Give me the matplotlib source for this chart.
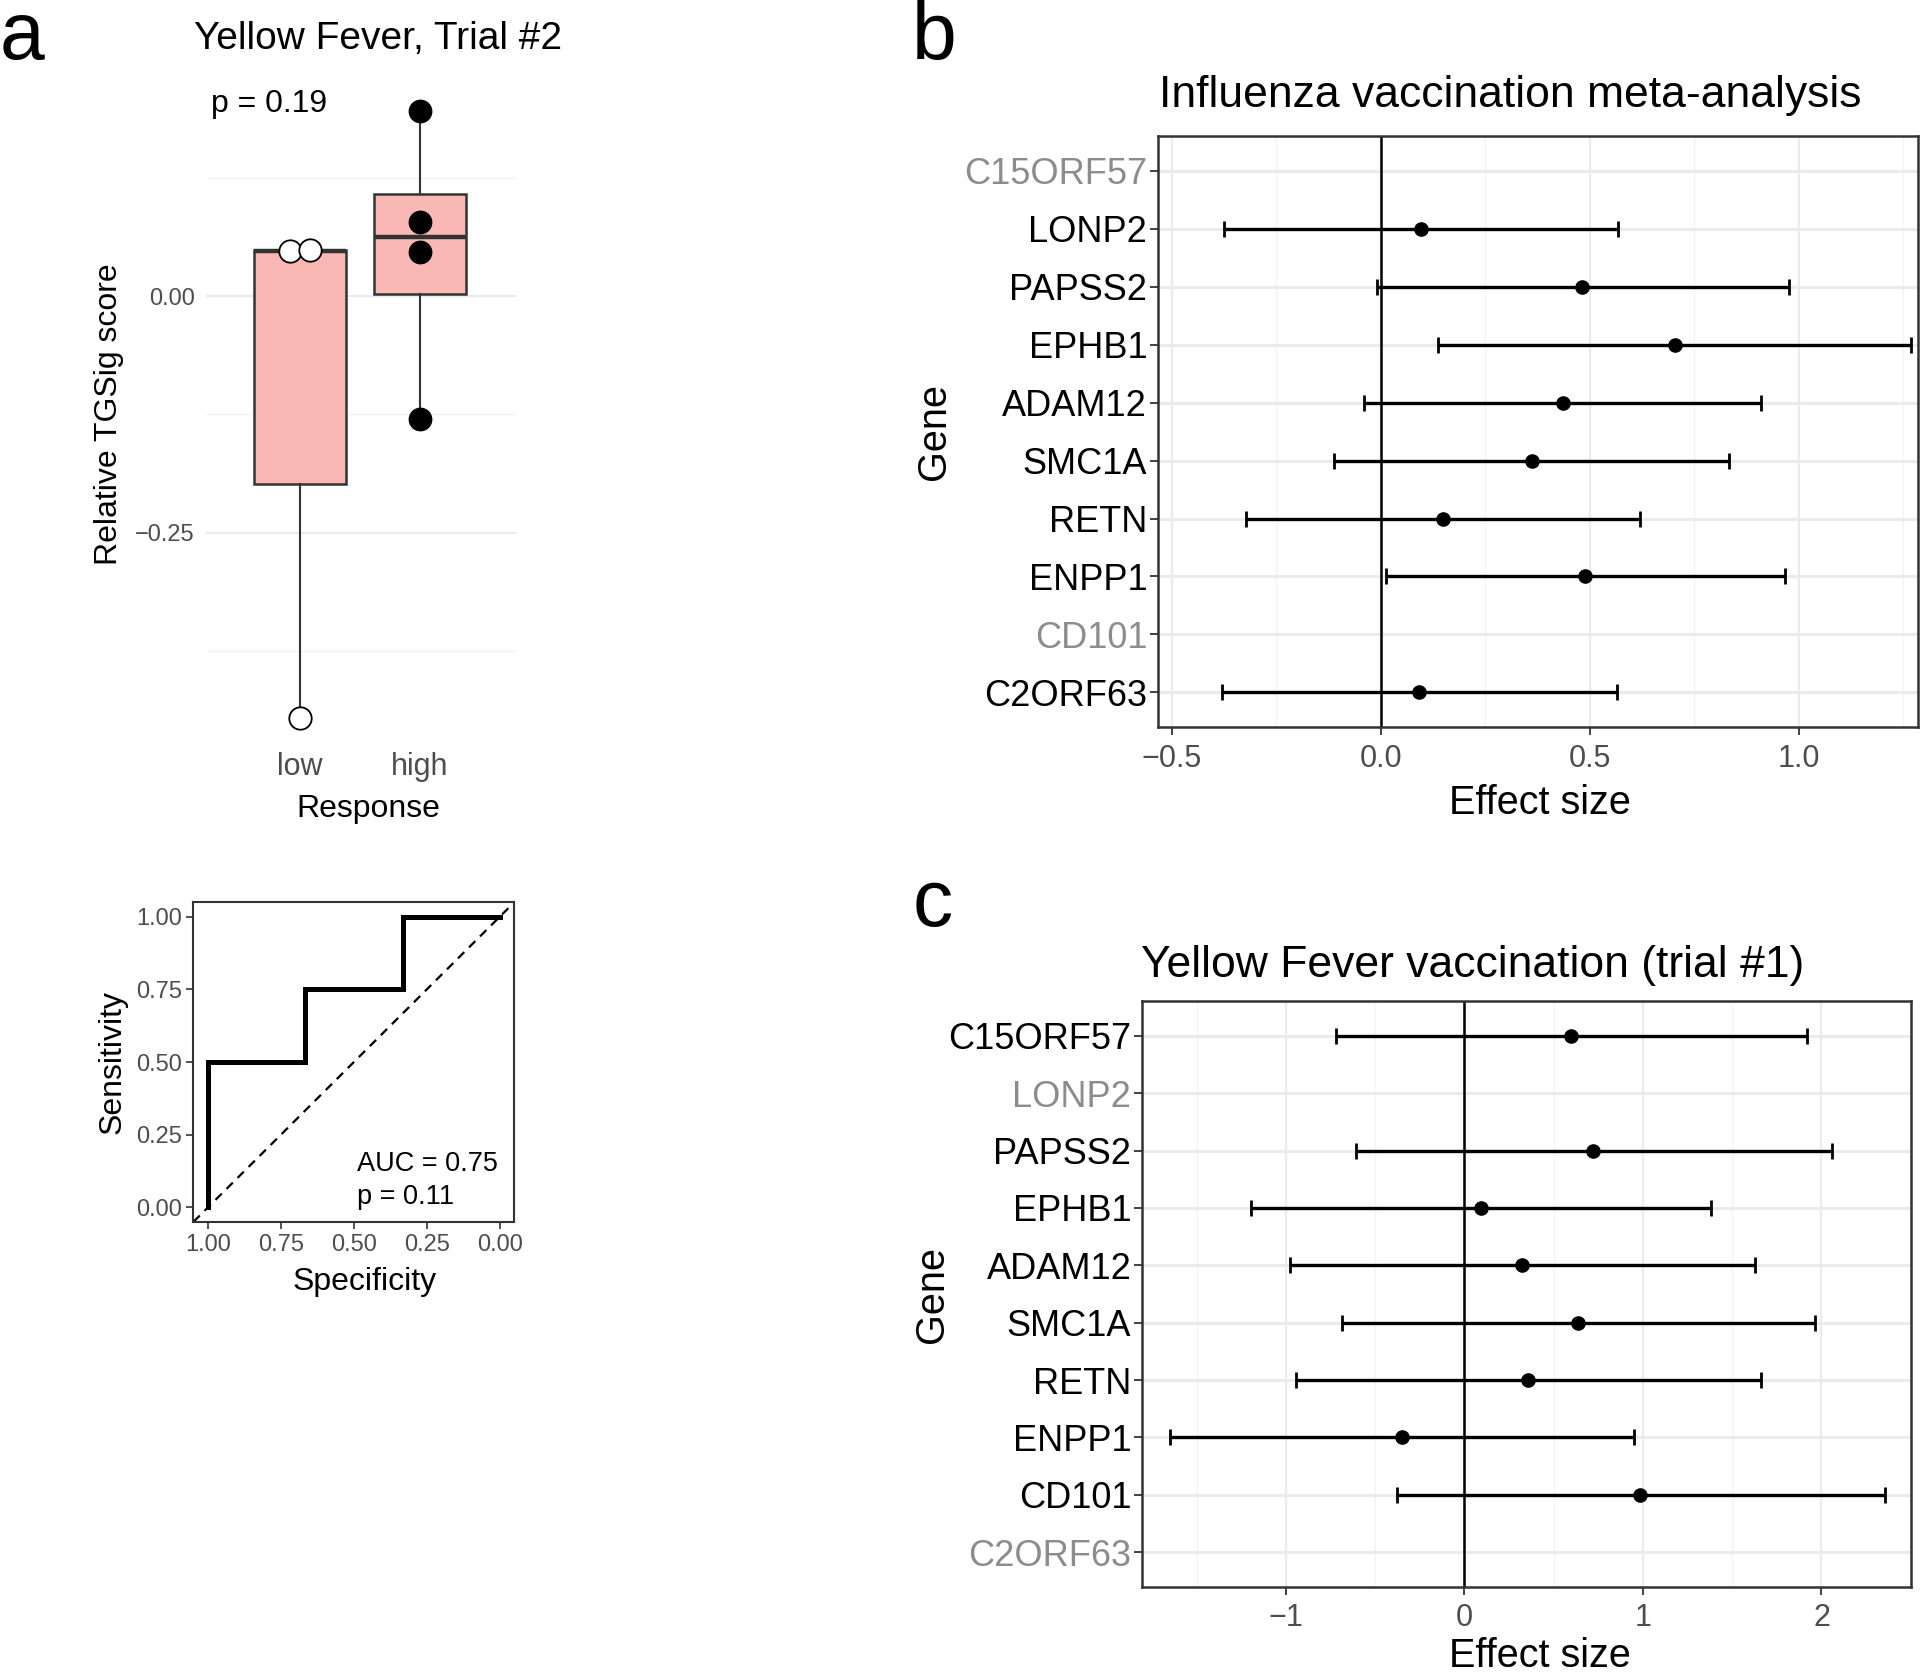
import numpy as np
import matplotlib
matplotlib.use("Agg")
import matplotlib.pyplot as plt

plt.rcParams['font.family'] = ['Liberation Sans', 'DejaVu Sans']

# ---------------- data ----------------
resp_groups = ["low", "high"]
score_low = [0.048, 0.049, -0.446]
score_high = [0.196, 0.079, 0.047, -0.130]
p_box = "p = 0.19"

roc_spec = [1.0, 1.0, 0.667, 0.667, 0.333, 0.333, 0.0]
roc_sens = [0.0, 0.5, 0.5, 0.75, 0.75, 1.0, 1.0]
roc_text = "AUC = 0.75\np = 0.11"

genes = ["C15ORF57", "LONP2", "PAPSS2", "EPHB1", "ADAM12",
         "SMC1A", "RETN", "ENPP1", "CD101", "C2ORF63"]
nan = np.nan
flu_es = [nan, 0.097, 0.482, 0.704, 0.436, 0.361, 0.148, 0.489, nan, 0.092]
flu_lo = [nan, -0.375, -0.008, 0.137, -0.041, -0.112, -0.323, 0.012, nan, -0.379]
flu_hi = [nan, 0.568, 0.977, 1.269, 0.910, 0.833, 0.620, 0.966, nan, 0.564]

yf_es = [0.599, nan, 0.723, 0.091, 0.325, 0.635, 0.354, -0.352, 0.985, nan]
yf_lo = [-0.719, nan, -0.609, -1.197, -0.974, -0.686, -0.945, -1.650, -0.378, nan]
yf_hi = [1.920, nan, 2.058, 1.383, 1.628, 1.964, 1.661, 0.949, 2.355, nan]

# ---------------- layout helpers (reference display coords 1568x1369) ----------------
W, H = 1568.0, 1369.0
def fx(x): return x / W
def fy(y): return 1 - y / H
def rect(x0, y0, x1, y1): return [x0 / W, 1 - y1 / H, (x1 - x0) / W, (y1 - y0) / H]

fig = plt.figure(figsize=(19.2, 16.76), dpi=100)

GRID_MAJ = "#EBEBEB"
GRID_MIN = "#F3F3F3"
TICKCOL = "#4D4D4D"
BORDER = "#333333"

# ---------------- panel a: boxplot ----------------
axa = fig.add_axes(rect(168, 66, 422, 611))
axa.set_xlim(0.214, 2.806)
axa.set_ylim(-0.478, 0.228)
for v in [0.0, -0.25]:
    axa.axhline(v, color=GRID_MAJ, lw=1.6, zorder=0)
for v in [0.125, -0.125, -0.375]:
    axa.axhline(v, color=GRID_MIN, lw=1.0, zorder=0)
bp = axa.boxplot([score_low, score_high], positions=[1, 2], widths=0.77,
                 patch_artist=True, showfliers=False, showcaps=False,
                 medianprops=dict(color=BORDER, lw=3.2),
                 boxprops=dict(facecolor="#F9B8B3", edgecolor=BORDER, lw=1.8),
                 whiskerprops=dict(color=BORDER, lw=1.5), zorder=2)
low_jit = [-0.08, 0.08, 0.0]
axa.scatter(np.array([1, 1, 1]) + np.array(low_jit), score_low, s=260,
            facecolor="white", edgecolor="black", lw=1.3, zorder=3)
axa.scatter([2] * len(score_high), score_high, s=260, facecolor="black",
            edgecolor="black", zorder=3)
for s in axa.spines.values():
    s.set_visible(False)
axa.set_yticks([0.0, -0.25])
axa.set_yticklabels(["0.00", "\u22120.25"])
axa.set_xticks([1, 2])
axa.set_xticklabels(resp_groups)
axa.tick_params(axis='y', length=0, labelsize=17, labelcolor=TICKCOL, pad=8)
axa.tick_params(axis='x', length=0, labelsize=22, labelcolor=TICKCOL, pad=3)
axa.set_ylabel("Relative TGSig score", fontsize=23, labelpad=8)
fig.text(fx(301), fy(661), "Response", fontsize=23, ha="center", va="center")
fig.text(fx(309), fy(32), "Yellow Fever, Trial #2", fontsize=28, ha="center", va="center")
fig.text(fx(220), fy(85), p_box, fontsize=23, ha="center", va="center")

# ---------------- panel a: ROC ----------------
axr = fig.add_axes(rect(158, 737, 420, 998))
axr.set_xlim(1.05, -0.05)
axr.set_ylim(-0.05, 1.05)
axr.plot([1.05, -0.05], [-0.05, 1.05], ls=(0, (4, 3)), color="black", lw=1.6)
axr.plot(roc_spec, roc_sens, color="black", lw=3.6, solid_joinstyle="miter")
ticks = [1.0, 0.75, 0.5, 0.25, 0.0]
axr.set_xticks(ticks)
axr.set_xticklabels(["%.2f" % t for t in ticks])
axr.set_yticks(ticks)
axr.set_yticklabels(["%.2f" % t for t in ticks])
for s in axr.spines.values():
    s.set_color(BORDER); s.set_linewidth(1.5)
axr.tick_params(length=5, width=1.2, color=BORDER, labelsize=17, labelcolor=TICKCOL, pad=3)
axr.tick_params(axis='x', pad=4)
axr.set_ylabel("Sensitivity", fontsize=23, labelpad=6)
fig.text(fx(298), fy(1047), "Specificity", fontsize=23, ha="center", va="center")
axr.text(0.49, -0.01, roc_text, fontsize=19.5, ha="left", va="bottom", linespacing=1.35)

# ---------------- forest plots ----------------
def forest(ax, es, lo, hi, xlim, majors, minors, xticklabels, ylabpad):
    n = len(genes)
    ypos = np.arange(n)[::-1]
    ax.set_xlim(*xlim)
    ax.set_ylim(-0.6, n - 1 + 0.6)
    for v in minors:
        ax.axvline(v, color=GRID_MIN, lw=1.0, zorder=0)
    for v in majors:
        ax.axvline(v, color=GRID_MAJ, lw=1.6, zorder=0)
    for y in ypos:
        ax.axhline(y, color=GRID_MAJ, lw=2.2, zorder=0)
    ax.axvline(0, color="black", lw=1.8, zorder=1)
    es = np.array(es); lo = np.array(lo); hi = np.array(hi)
    ok = ~np.isnan(es)
    ax.errorbar(es[ok], ypos[ok], xerr=[es[ok] - lo[ok], hi[ok] - es[ok]],
                fmt="o", color="black", ms=9.5, elinewidth=2.4, capsize=5.5,
                capthick=2.0, zorder=3)
    ax.set_yticks(ypos)
    ax.set_yticklabels(genes)
    for lab, ok_i in zip(ax.get_yticklabels(), ok):
        lab.set_color("black" if ok_i else "#8C8C8C")
    ax.set_xticks(majors)
    ax.set_xticklabels(xticklabels)
    for s in ax.spines.values():
        s.set_color(BORDER); s.set_linewidth(1.8)
    ax.tick_params(axis='y', length=6, width=1.3, color=BORDER, labelsize=26, pad=2)
    ax.tick_params(axis='x', length=6, width=1.3, color=BORDER, labelsize=22,
                   labelcolor=TICKCOL, pad=6)
    ax.set_ylabel("Gene", fontsize=28.5, labelpad=ylabpad)

axb = fig.add_axes(rect(946, 111, 1566, 594))
forest(axb, flu_es, flu_lo, flu_hi, (-0.532, 1.284), [-0.5, 0.0, 0.5, 1.0],
       [-0.25, 0.25, 0.75, 1.25], ["\u22120.5", "0.0", "0.5", "1.0"], 8)
fig.text(fx(1233), fy(78), "Influenza vaccination meta-analysis", fontsize=32,
         ha="center", va="center")
fig.text(fx(1258), fy(656), "Effect size", fontsize=28.5, ha="center", va="center")

axc = fig.add_axes(rect(933, 818, 1561, 1296))
forest(axc, yf_es, yf_lo, yf_hi, (-1.803, 2.504), [-1, 0, 1, 2],
       [-1.5, -0.5, 0.5, 1.5], ["\u22121", "0", "1", "2"], -2)
fig.text(fx(1203), fy(789), "Yellow Fever vaccination (trial #1)", fontsize=32,
         ha="center", va="center")
fig.text(fx(1258), fy(1368), "Effect size", fontsize=28.5, ha="center", va="bottom")

# ---------------- panel letters ----------------
fig.text(fx(0), fy(48), "a", fontsize=58, ha="left", va="baseline")
fig.text(fx(745), fy(48), "b", fontsize=58, ha="left", va="baseline")
fig.text(fx(745), fy(756), "c", fontsize=58, ha="left", va="baseline")

fig.savefig("out.png", dpi=100, facecolor="white")
